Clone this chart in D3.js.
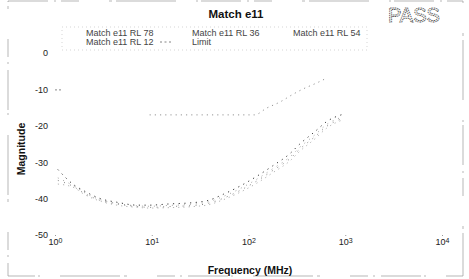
<!DOCTYPE html>
<html><head><meta charset="utf-8">
<script src="https://cdn.jsdelivr.net/npm/d3@7"></script>
<style>body{margin:0;background:#fff}svg{display:block;font-family:"Liberation Sans",Arial,sans-serif}</style>
</head><body><svg id="c" width="469" height="279"></svg>
<script>
const freqs = [1.07, 1.58, 1.91, 3.02, 4.37, 7.08, 9.55, 14.5, 29.5, 37.2, 55, 81.3, 123, 178, 269, 339, 490, 646, 955];
const rl78 = [-32, -36.3, -37.6, -40.1, -41, -41.8, -41.8, -41.5, -41, -40.6, -38.8, -36.6, -33.8, -31, -27.6, -25, -21.5, -18.8, -16.8];
const rl36 = [-34.3, -36.6, -38, -40.4, -41.3, -42, -42.1, -41.9, -41.4, -41, -39.4, -37.3, -34.6, -31.8, -28.5, -25.9, -22.4, -19.6, -17.5];
const rl54 = [-36, -37, -38.5, -40.8, -41.8, -42.4, -42.6, -42.5, -42.1, -41.8, -40.3, -38.3, -35.7, -32.9, -29.6, -27, -23.5, -20.6, -18.3];
const rl12 = [-35, -36.8, -38.2, -40.6, -41.5, -42.2, -42.4, -42.2, -41.8, -41.4, -39.9, -37.8, -35.1, -32.3, -29, -26.4, -22.9, -20.1, -17.9];
const limitFreqs = [9.5, 115, 155, 210, 290, 365, 510, 620];
const limitVals = [-17, -17, -15.1, -13.5, -11.3, -9.9, -8.2, -7.1];
const seriesNames = ["Match e11 RL 78", "Match e11 RL 36", "Match e11 RL 54", "Match e11 RL 12", "Limit"];
const yTicks = [0, -10, -20, -30, -40, -50];
const xTicks = [1, 10, 100, 1000, 10000];
const xTickExps = ["0", "1", "2", "3", "4"];

const svg = d3.select("#c");
const x = d3.scaleLog().domain([1, 10000]).range([55, 442]);
const y = d3.scaleLinear().domain([0, -50]).range([53, 235]);

// outer frame (broken, like a scan)
svg.append("rect").attr("x", 8).attr("y", 1).attr("width", 455).attr("height", 275)
  .attr("fill", "none").attr("stroke", "#999").attr("stroke-width", 0.7)
  .attr("stroke-dasharray", "40,6,2,5,18,30,3,4,60,20,2,3");

// title
svg.append("text").attr("x", 236).attr("y", 18).attr("text-anchor", "middle")
  .attr("font-size", 11.5).attr("font-weight", "bold").attr("fill", "#111").text("Match e11");

// PASS
svg.append("text").attr("x", 388).attr("y", 22).attr("font-size", 20)
  .attr("fill", "#fff").attr("stroke", "#555").attr("stroke-width", 0.9)
  .attr("stroke-dasharray", "1.4,0.8").text("PASS");

// legend box
svg.append("rect").attr("x", 62).attr("y", 27).attr("width", 305).attr("height", 23)
  .attr("fill", "none").attr("stroke", "#bbb").attr("stroke-width", 0.6)
  .attr("stroke-dasharray", "1,3");
const legendPos = [[86, 36], [192, 36], [293, 36], [86, 45], [192, 45]];
seriesNames.forEach((n, i) => {
  const [lx, ly] = legendPos[i];
  svg.append("text").attr("x", lx).attr("y", ly).attr("font-size", 9)
    .attr("fill", "#444").text(n);
  if (i === 4) {
    svg.append("line").attr("x1", lx - 32).attr("x2", lx - 20).attr("y1", ly - 3).attr("y2", ly - 3)
      .attr("stroke", "#666").attr("stroke-width", 0.8).attr("stroke-dasharray", "2,2.5");
  }
});

// y axis
const ya = svg.append("g").attr("transform", "translate(55,0)")
  .call(d3.axisLeft(y).tickValues(yTicks).tickSizeInner(-6).tickSizeOuter(0).tickPadding(7).tickFormat(d3.format("d")));
ya.select(".domain").remove();
ya.selectAll(".tick line").attr("stroke", "#888").attr("stroke-dasharray", "2,2")
  .attr("opacity", (d) => d === -10 ? 1 : 0);
ya.selectAll(".tick text").attr("font-size", 9).attr("fill", "#222")
  .attr("font-family", "Liberation Sans, Arial, sans-serif")
  .text(d => d === 0 ? "0" : "-" + Math.abs(d));

// x axis
const xa = svg.append("g").attr("transform", "translate(0,236)")
  .call(d3.axisBottom(x).tickValues(xTicks).tickSizeInner(-4).tickSizeOuter(0).tickPadding(3).tickFormat(() => ""));
xa.select(".domain").remove();
xa.selectAll(".tick line").attr("stroke", "#999").attr("stroke-dasharray", "1,3");
xa.selectAll(".tick text").attr("font-size", 9).attr("fill", "#222")
  .attr("font-family", "Liberation Sans, Arial, sans-serif")
  .each(function(d, i) {
    const t = d3.select(this);
    t.append("tspan").text("10");
    t.append("tspan").attr("dy", "-0.4em").attr("font-size", 7).text(xTickExps[i]);
  });

// axis titles
svg.append("text").attr("x", 250).attr("y", 274).attr("text-anchor", "middle")
  .attr("font-size", 10.5).attr("font-weight", "bold").attr("fill", "#111").text("Frequency (MHz)");
svg.append("text").attr("transform", "translate(25,149) rotate(-90)").attr("text-anchor", "middle")
  .attr("font-size", 10.5).attr("font-weight", "bold").attr("fill", "#111").text("Magnitude");

// data
const line = d3.line().x(d => x(d[0])).y(d => y(d[1])).curve(d3.curveMonotoneX);
const series = [
  {v: rl78, c: "#222", da: "1.2,4.5"},
  {v: rl36, c: "#999", da: "1,5"},
  {v: rl54, c: "#aaa", da: "1.2,4"},
  {v: rl12, c: "#777", da: "1,5.5"}
];
series.forEach(s => {
  svg.append("path").datum(freqs.map((f, i) => [f, s.v[i]]))
    .attr("d", line).attr("fill", "none").attr("stroke", s.c)
    .attr("stroke-width", 0.9).attr("stroke-dasharray", s.da);
});
svg.append("path").datum(limitFreqs.map((f, i) => [f, limitVals[i]]))
  .attr("d", line).attr("fill", "none").attr("stroke", "#888")
  .attr("stroke-width", 0.9).attr("stroke-dasharray", "1.2,4");
</script></body></html>
